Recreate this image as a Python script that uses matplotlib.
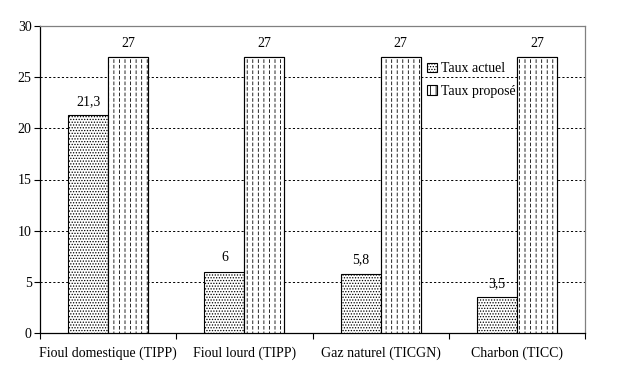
import numpy as np
import matplotlib
matplotlib.use('Agg')
import matplotlib.pyplot as plt

categories = ["Fioul domestique (TIPP)", "Fioul lourd (TIPP)", "Gaz naturel (TICGN)", "Charbon (TICC)"]
taux_actuel = [21.3, 6, 5.8, 3.5]
taux_propose = [27, 27, 27, 27]
labels_actuel = ["21,3", "6", "5,8", "3,5"]
labels_propose = ["27", "27", "27", "27"]

plt.rcParams['font.family'] = ['Liberation Serif', 'DejaVu Serif']
plt.rcParams['font.size'] = 10
plt.rcParams['hatch.linewidth'] = 0.6

fig = plt.figure(figsize=(6.17, 3.79), dpi=100)
ax = fig.add_axes([40 / 617, 46 / 379, 545 / 617, 307 / 379])

x = np.arange(len(categories))
w = 40 / 136

ax.bar(x - w / 2, taux_actuel, w, facecolor='white', edgecolor='black',
       linewidth=0.8, hatch='......', label='Taux actuel', zorder=3)
ax.bar(x + w / 2, taux_propose, w, facecolor='white', edgecolor='black',
       linewidth=0.8, hatch='|||', label='Taux proposé', zorder=3)

# white horizontal hatch over the vertical lines to make them dashed
gaps = ax.bar(x + w / 2, taux_propose, w, facecolor='none', edgecolor='white',
              linewidth=0, hatch='---', zorder=3.5)
for p in gaps:
    if hasattr(p, 'set_hatch_linewidth'):
        p.set_hatch_linewidth(1.4)
ax.bar(x + w / 2, taux_propose, w, facecolor='none', edgecolor='black',
       linewidth=0.8, zorder=3.6)

for xi, v, t in zip(x - w / 2, taux_actuel, labels_actuel):
    ax.text(xi, v + 0.7, t, ha='center', va='bottom', fontsize=10, zorder=4)
for xi, v, t in zip(x + w / 2, taux_propose, labels_propose):
    ax.text(xi, v + 0.7, t, ha='center', va='bottom', fontsize=10, zorder=4)

ax.set_xlim(-0.5, len(categories) - 0.5)
ax.set_ylim(0, 30)
ax.set_yticks(range(0, 31, 5))
ax.yaxis.grid(True, color='black', linestyle=(0, (2.2, 2.2)), linewidth=0.7)
ax.set_axisbelow(True)

ax.set_xticks(x)
ax.set_xticklabels(categories)
ax.set_xticks(np.arange(-0.5, len(categories), 1), minor=True)
ax.tick_params(axis='x', which='major', length=0, pad=10)
ax.tick_params(axis='x', which='minor', length=4, width=0.8, direction='out')
ax.tick_params(axis='y', length=4, width=0.8, direction='out', pad=2)

for s in ['left', 'bottom']:
    ax.spines[s].set_color('black')
    ax.spines[s].set_linewidth(0.9)
for s in ['top', 'right']:
    ax.spines[s].set_color('grey')
    ax.spines[s].set_linewidth(0.9)

ax.legend(loc='upper left', bbox_to_anchor=(0.70, 0.90), frameon=False,
          handlelength=0.7, handleheight=0.7, handletextpad=0.3,
          labelspacing=0.7, fontsize=10, borderaxespad=0)

fig.savefig('out.png', dpi=100)
